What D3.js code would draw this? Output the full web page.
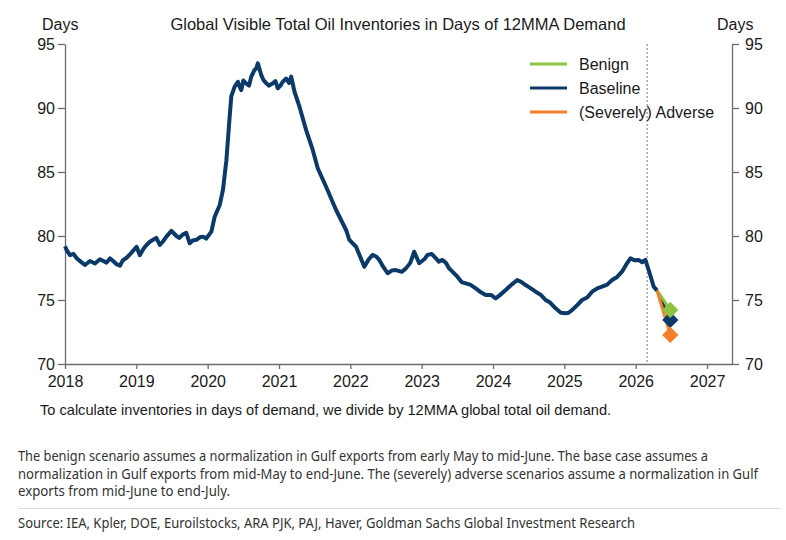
<!DOCTYPE html>
<html>
<head>
<meta charset="utf-8">
<script src="https://cdn.jsdelivr.net/npm/d3@7"></script>
<style>
  body { margin: 0; background: #fff; }
  svg { display: block; }
</style>
</head>
<body>
<div id="chart"></div>
<script>
// history: decimal year / days of 12MMA demand
const histYear = [
  2018.0, 2018.024, 2018.07, 2018.12, 2018.164, 2018.22, 2018.28, 2018.35, 2018.42, 2018.49,
  2018.583, 2018.63, 2018.675, 2018.72, 2018.77, 2018.81, 2018.863, 2018.933, 2019.003, 2019.049,
  2019.1, 2019.143, 2019.19, 2019.235, 2019.28, 2019.329, 2019.37, 2019.422, 2019.492, 2019.562,
  2019.6, 2019.655, 2019.7, 2019.748, 2019.79, 2019.842, 2019.89, 2019.934, 2019.98, 2020.052,
  2020.098, 2020.168, 2020.214, 2020.262, 2020.308, 2020.331, 2020.378, 2020.424, 2020.44, 2020.471,
  2020.5, 2020.541, 2020.58, 2020.611, 2020.657, 2020.68, 2020.703, 2020.751, 2020.78, 2020.821,
  2020.86, 2020.913, 2020.95, 2020.983, 2021.02, 2021.053, 2021.101, 2021.14, 2021.171, 2021.217,
  2021.287, 2021.38, 2021.473, 2021.543, 2021.66, 2021.8, 2021.94, 2021.986, 2022.08, 2022.196,
  2022.26, 2022.312, 2022.36, 2022.406, 2022.46, 2022.522, 2022.58, 2022.639, 2022.72, 2022.779,
  2022.84, 2022.895, 2022.965, 2023.04, 2023.081, 2023.14, 2023.199, 2023.24, 2023.291, 2023.34,
  2023.385, 2023.501, 2023.56, 2023.618, 2023.68, 2023.758, 2023.83, 2023.898, 2023.97, 2024.038,
  2024.1, 2024.178, 2024.26, 2024.34, 2024.4, 2024.457, 2024.52, 2024.597, 2024.67, 2024.737,
  2024.8, 2024.877, 2024.95, 2025.017, 2025.06, 2025.109, 2025.18, 2025.249, 2025.32, 2025.389,
  2025.46, 2025.529, 2025.6, 2025.669, 2025.74, 2025.808, 2025.87, 2025.926, 2025.98, 2026.042,
  2026.09, 2026.136, 2026.182, 2026.252, 2026.298
]
const histDays = [
  79.2, 78.9, 78.5, 78.6, 78.26, 78.0, 77.73, 78.05, 77.85, 78.18,
  77.92, 78.25, 78.05, 77.8, 77.68, 78.1, 78.3, 78.7, 79.16, 78.5,
  79.0, 79.3, 79.55, 79.7, 79.85, 79.3, 79.55, 79.95, 80.4, 80.0,
  79.85, 80.13, 80.25, 79.43, 79.65, 79.7, 79.9, 79.95, 79.8, 80.34,
  81.5, 82.4, 83.6, 85.9, 89.3, 90.9, 91.67, 92.05, 91.75, 91.4,
  92.15, 91.9, 91.75, 92.45, 92.97, 93.1, 93.49, 92.58, 92.2, 91.93,
  91.75, 91.93, 92.1, 91.54, 91.75, 92.05, 92.3, 91.95, 92.45, 91.27,
  90.1, 88.28, 86.72, 85.29, 83.85, 82.03, 80.47, 79.69, 79.16, 77.6,
  78.2, 78.52, 78.4, 78.13, 77.6, 77.09, 77.3, 77.34, 77.2, 77.47,
  77.9, 78.77, 77.87, 78.2, 78.52, 78.6, 78.26, 78.0, 78.13, 77.9,
  77.47, 76.82, 76.4, 76.3, 76.2, 75.91, 75.6, 75.39, 75.4, 75.13,
  75.4, 75.78, 76.2, 76.56, 76.4, 76.17, 75.95, 75.65, 75.4, 75.0,
  74.8, 74.35, 74.0, 73.96, 74.0, 74.22, 74.6, 75.0, 75.2, 75.65,
  75.9, 76.04, 76.2, 76.56, 76.8, 77.21, 77.8, 78.26, 78.1, 78.13,
  77.95, 78.13, 77.34, 76.04, 75.75
]

// scenarios: end of June 2026
const scenarioNames = ["Benign", "Baseline", "(Severely) Adverse"]
const scenarioYear = 2026.485
const scenarioDays = [74.22, 73.44, 72.27]
const scenarioDrawOrder = [1, 0, 2]

const forecastStart = 2026.16
const xTicks = [2018, 2019, 2020, 2021, 2022, 2023, 2024, 2025, 2026, 2027]
const yTicks = [70, 75, 80, 85, 90, 95]

const colors = { "Benign": "#8cc63f", "Baseline": "#0b3a68", "(Severely) Adverse": "#f47f2a" }

const footLines = [
  "The benign scenario assumes a normalization in Gulf exports from early May to mid-June. The base case assumes a",
  "normalization in Gulf exports from mid-May to end-June. The (severely) adverse scenarios assume a normalization in Gulf",
  "exports from mid-June to end-July."
]

function createChart() {
  const width = 786
  const height = 540
  const left = 65, right = 732, top = 44, bottom = 364
  const axisColor = "#6b6b6b"
  const font = "Liberation Sans, Arial, sans-serif"

  const x = d3.scaleLinear().domain([2018, 2027.35]).range([left, right])
  const y = d3.scaleLinear().domain([70, 95]).range([bottom, top])

  const svg = d3.select("#chart")
    .append("svg")
    .attr("width", width)
    .attr("height", height)
    .attr("viewBox", [0, 0, width, height])
    .style("font-family", font)

  // title and unit labels
  svg.append("text")
    .attr("x", 398).attr("y", 30)
    .attr("text-anchor", "middle")
    .attr("font-size", 16.5)
    .attr("fill", "#1a1a1a")
    .text("Global Visible Total Oil Inventories in Days of 12MMA Demand")

  svg.append("text").attr("x", 42).attr("y", 30).attr("font-size", 16).attr("fill", "#1a1a1a").text("Days")
  svg.append("text").attr("x", 717).attr("y", 30).attr("font-size", 16).attr("fill", "#1a1a1a").text("Days")

  // axes
  const styleAxis = g => {
    g.select(".domain").attr("stroke", axisColor).attr("stroke-width", 1.3)
    g.selectAll(".tick line").attr("stroke", axisColor).attr("stroke-width", 1.3)
    g.selectAll(".tick text").attr("fill", "#1a1a1a").attr("font-size", 16).attr("font-family", font)
  }

  svg.append("g")
    .attr("transform", `translate(0,${bottom})`)
    .call(d3.axisBottom(x).tickValues(xTicks).tickFormat(d3.format("d")).tickSize(5).tickSizeOuter(0).tickPadding(7))
    .call(styleAxis)

  svg.append("g")
    .attr("transform", `translate(${left},0)`)
    .call(d3.axisLeft(y).tickValues(yTicks).tickSize(7).tickSizeOuter(0).tickPadding(3))
    .call(styleAxis)

  svg.append("g")
    .attr("transform", `translate(${right},0)`)
    .call(d3.axisRight(y).tickValues(yTicks).tickSize(7).tickSizeOuter(0).tickPadding(6))
    .call(styleAxis)

  // forecast divider
  svg.append("line")
    .attr("x1", x(forecastStart)).attr("x2", x(forecastStart))
    .attr("y1", y(95)).attr("y2", y(70))
    .attr("stroke", "#777")
    .attr("stroke-width", 1)
    .attr("stroke-dasharray", "2,2")

  const line = d3.line().x(d => x(d[0])).y(d => y(d[1]))

  // scenario paths from last actual point
  const lastYear = histYear[histYear.length - 1]
  const lastDays = histDays[histDays.length - 1]
  scenarioDrawOrder.forEach(i => {
    svg.append("path")
      .datum([[lastYear, lastDays], [scenarioYear, scenarioDays[i]]])
      .attr("d", line)
      .attr("fill", "none")
      .attr("stroke", colors[scenarioNames[i]])
      .attr("stroke-width", 3)
  })

  // history
  svg.append("path")
    .datum(histYear.map((t, i) => [t, histDays[i]]))
    .attr("d", line)
    .attr("fill", "none")
    .attr("stroke", colors["Baseline"])
    .attr("stroke-width", 4)
    .attr("stroke-linejoin", "round")

  // end-of-June markers
  const diamond = d3.symbol().type(d3.symbolSquare).size(132)
  scenarioDrawOrder.forEach(i => {
    svg.append("path")
      .attr("d", diamond)
      .attr("transform", `translate(${x(scenarioYear)},${y(scenarioDays[i])}) rotate(45)`)
      .attr("fill", colors[scenarioNames[i]])
  })

  // legend
  const legend = svg.append("g").attr("transform", "translate(530,64)")
  scenarioNames.forEach((name, i) => {
    const row = legend.append("g").attr("transform", `translate(0,${i * 24})`)
    row.append("line").attr("x1", 0).attr("x2", 37).attr("stroke", colors[name]).attr("stroke-width", 3)
    row.append("text").attr("x", 49).attr("y", 6).attr("font-size", 16).attr("fill", "#1a1a1a").text(name)
  })

  svg.append("text")
    .attr("x", 40).attr("y", 415)
    .attr("font-size", 14.6)
    .attr("fill", "#1a1a1a")
    .text("To calculate inventories in days of demand, we divide by 12MMA global total oil demand.")

  // caption below the chart
  const footFont = "Noto Sans, Open Sans, sans-serif"
  const footWidths = [690, 740, 212]
  footLines.forEach((t, i) => {
    svg.append("text")
      .attr("x", 18).attr("y", 461 + i * 17.5)
      .attr("font-family", footFont)
      .attr("font-size", 13.5)
      .attr("fill", "#333")
      .attr("textLength", footWidths[i])
      .attr("lengthAdjust", "spacingAndGlyphs")
      .text(t)
  })

  svg.append("line")
    .attr("x1", 18).attr("x2", 781)
    .attr("y1", 508.5).attr("y2", 508.5)
    .attr("stroke", "#dcdcdc")

  svg.append("text")
    .attr("x", 18).attr("y", 528)
    .attr("font-family", footFont)
    .attr("font-size", 13.5)
    .attr("fill", "#333")
    .attr("textLength", 617)
    .attr("lengthAdjust", "spacingAndGlyphs")
    .text("Source: IEA, Kpler, DOE, Euroilstocks, ARA PJK, PAJ, Haver, Goldman Sachs Global Investment Research")
}

createChart()
</script>
</body>
</html>
